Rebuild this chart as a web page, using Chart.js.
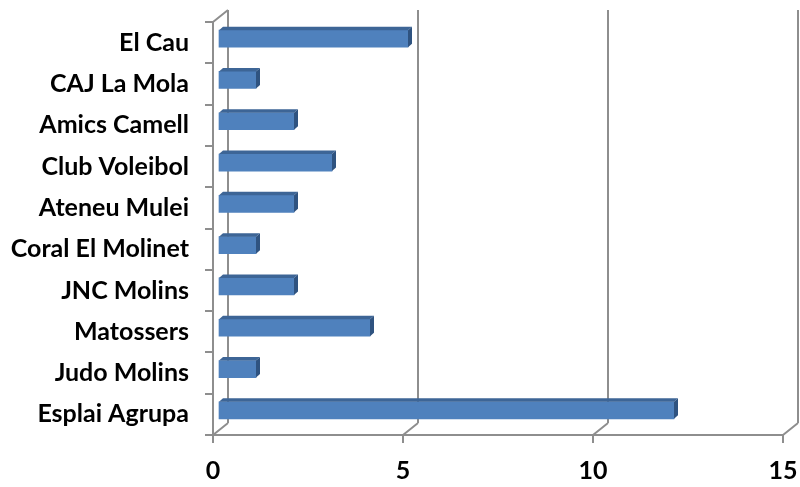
<!DOCTYPE html>
<html>
<head>
<meta charset="utf-8">
<script src="https://cdn.jsdelivr.net/npm/chart.js@4"></script>
<style>
  html, body { margin: 0; padding: 0; background: #fff; }
  #wrap { width: 800px; height: 487px; }
</style>
</head>
<body>
<div id="wrap"><canvas id="myChart"></canvas></div>
<script>
var entitats = ["El Cau", "CAJ La Mola", "Amics Camell", "Club Voleibol", "Ateneu Mulei",
  "Coral El Molinet", "JNC Molins", "Matossers", "Judo Molins", "Esplai Agrupa"];
var valors = [5, 1, 2, 3, 2, 1, 2, 4, 1, 12];
var xTicks = [0, 5, 10, 15];

var gridColor = "#8e8e8e";
var dx = 15, dy = 12;      // back wall offset
var bx = 5, by = 4;        // bar offset inside the depth
var fx = 4, fy = 3.5;      // bar depth faces

function noPad(s) {
  s.paddingTop = 0; s.paddingBottom = 0; s.paddingLeft = 0; s.paddingRight = 0;
}

var fake3d = {
  id: "fake3d",
  beforeDatasetsDraw: function (chart) {
    var ctx = chart.ctx, a = chart.chartArea, xs = chart.scales.x;
    ctx.save();
    ctx.strokeStyle = gridColor;
    ctx.lineWidth = 2;
    ctx.beginPath();
    xTicks.forEach(function (v) {
      var px = xs.getPixelForValue(v);
      ctx.moveTo(px + dx, a.top - dy);
      ctx.lineTo(px + dx, a.bottom - dy);
      ctx.moveTo(px, a.bottom);
      ctx.lineTo(px + dx, a.bottom - dy);
    });
    ctx.moveTo(a.left, a.top);
    ctx.lineTo(a.left + dx, a.top - dy);
    ctx.stroke();
    ctx.restore();
    ctx.save();
    ctx.translate(bx, -by);
  },
  afterDatasetsDraw: function (chart) {
    var ctx = chart.ctx;
    chart.getDatasetMeta(0).data.forEach(function (b) {
      var top = b.y - b.height / 2, bot = b.y + b.height / 2;
      ctx.fillStyle = "#3d6596";
      ctx.beginPath();
      ctx.moveTo(b.base, top);
      ctx.lineTo(b.x, top);
      ctx.lineTo(b.x + fx, top - fy);
      ctx.lineTo(b.base + fx, top - fy);
      ctx.closePath();
      ctx.fill();
      ctx.fillStyle = "#2f5380";
      ctx.beginPath();
      ctx.moveTo(b.x, top);
      ctx.lineTo(b.x + fx, top - fy);
      ctx.lineTo(b.x + fx, bot - fy);
      ctx.lineTo(b.x, bot);
      ctx.closePath();
      ctx.fill();
    });
    ctx.restore();
  }
};

ch = document.getElementById("myChart");
new Chart(ch, {
  type: "bar",
  data: {
    labels: entitats,
    datasets: [{
      data: valors,
      backgroundColor: "#4f81bd",
      borderWidth: 0,
      barThickness: 17,
      clip: false
    }]
  },
  options: {
    indexAxis: "y",
    responsive: true,
    maintainAspectRatio: false,
    animation: false,
    layout: { padding: { top: 22, right: 17, left: 0, bottom: 0 } },
    plugins: { legend: { display: false }, tooltip: { enabled: false } },
    scales: {
      x: {
        min: 0,
        max: 15,
        ticks: {
          stepSize: 5,
          color: "#000",
          padding: 13,
          font: { family: "Lato", weight: "bold", size: 25 }
        },
        grid: { drawOnChartArea: false, drawTicks: true, tickLength: 8, color: gridColor, lineWidth: 2 },
        border: { display: true, color: gridColor, width: 2 },
        afterFit: function (s) { s.height = 52; noPad(s); }
      },
      y: {
        ticks: {
          color: "#000",
          padding: 16,
          font: { family: "Lato", weight: "bold", size: 25 }
        },
        grid: { offset: true, drawOnChartArea: false, drawTicks: true, tickLength: 8, color: gridColor, lineWidth: 2 },
        border: { display: true, color: gridColor, width: 2 },
        afterFit: function (s) { s.width = 213; noPad(s); }
      }
    }
  },
  plugins: [fake3d]
});
</script>
</body>
</html>
